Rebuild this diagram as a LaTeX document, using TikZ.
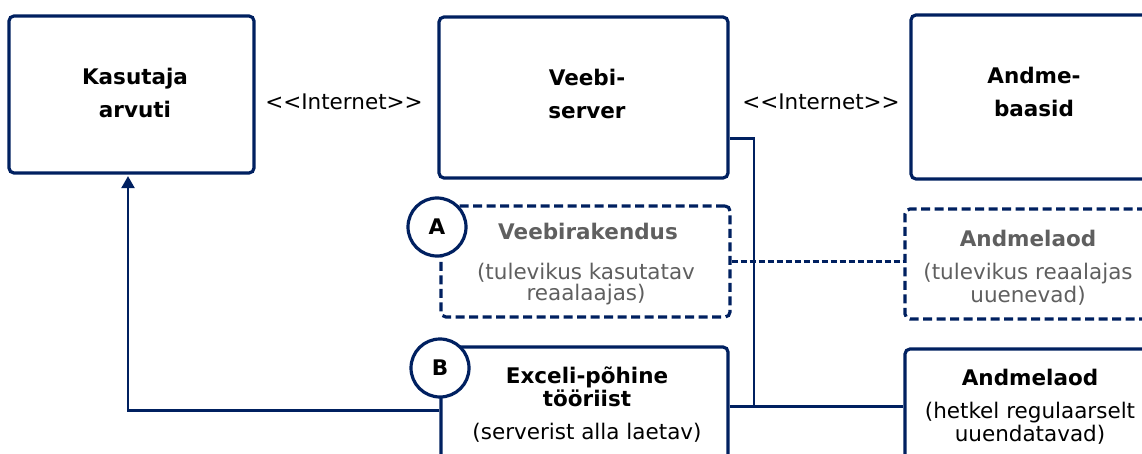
\documentclass[tikz,border=0pt]{standalone}
\usepackage{fontspec}
\setmainfont{DejaVu Sans}
\usetikzlibrary{arrows.meta}
\definecolor{navy}{HTML}{002060}
\definecolor{mute}{HTML}{5F5F5F}

\begin{document}
\begin{tikzpicture}[x=1pt, y=-1pt,
  box/.style={draw=navy, line width=3.2pt, rounded corners=5pt, inner sep=0pt},
  planned/.style={box, dash pattern=on 9pt off 4.5pt},
  badge/.style={circle, draw=navy, line width=3.2pt, fill=white, minimum size=58pt,
                inner sep=0pt, font=\fontsize{21.5}{25}\selectfont\bfseries},
  link/.style={draw=navy, line width=2.2pt},
  dlink/.style={link, dash pattern=on 6pt off 3pt},
  txt/.style={anchor=base, inner sep=0pt, font=\fontsize{21.5}{25}\selectfont},
  ttl/.style={txt, font=\fontsize{21.5}{25}\selectfont\bfseries},
  gtxt/.style={txt, text=mute},
  gttl/.style={ttl, text=mute}
]
\useasboundingbox (0,0) rectangle (1142,454);
\clip (0,0) rectangle (1142,454);

% top row
\node[box, minimum width=245pt, minimum height=157pt] (user)   at (131.5,94.5) {};
\node[box, minimum width=289pt, minimum height=161pt] (server) at (583.5,97.5) {};
\node[box, minimum width=246pt, minimum height=164pt] (db)     at (1034,97)   {};

\node[ttl] (userA) at (135,85)  {Kasutaja};
\node[ttl] (userB) at (135,118) {arvuti};
\node[ttl] (srvA)  at (587,86)  {Veebi-};
\node[ttl] (srvB)  at (587,119) {server};
\node[ttl] (dbA)   at (1034,84) {Andme-};
\node[ttl] (dbB)   at (1034,117) {baasid};

\node[txt] (net1) at (344,110) {<{}<Internet>{}>};
\node[txt] (net2) at (821,110) {<{}<Internet>{}>};

% planned components
\node[planned, minimum width=289pt, minimum height=111pt] (webapp) at (585.5,261.5) {};
\node[planned, minimum width=246pt, minimum height=110pt] (storeA) at (1028,264)  {};

\node[gttl] (appT)  at (588,240) {Veebirakendus};
\node[gtxt] (appS1) at (586,279) {(tulevikus kasutatav};
\node[gtxt] (appS2) at (586,300) {reaalaajas)};
\node[gttl] (stAT)  at (1028,247) {Andmelaod};
\node[gtxt] (stAS1) at (1028,279) {(tulevikus reaalajas};
\node[gtxt] (stAS2) at (1028,302) {uuenevad)};

% current components
\node[box, minimum width=287pt, minimum height=133pt] (excel)  at (584.5,413.5) {};
\node[box, minimum width=250pt, minimum height=131pt] (storeB) at (1030,414.5)  {};

\node[ttl] (exT1) at (587,383) {Exceli-põhine};
\node[ttl] (exT2) at (587,406) {tööriist};
\node[txt] (exS)  at (587,439) {(serverist alla laetav)};
\node[ttl] (stBT)  at (1030,385) {Andmelaod};
\node[txt] (stBS1) at (1030,418) {(hetkel regulaarselt};
\node[txt] (stBS2) at (1030,441) {uuendatavad)};

% connectors
\coordinate (bus) at (754,408);
\draw[link] ([yshift=41pt]server.south east) -| (bus);
\draw[link] ([yshift=-61pt]excel.north east) -- ([yshift=-59pt]storeB.north west);
\draw[dlink] (webapp.east) -- (webapp.east -| storeA.west);
\draw[link, -{Triangle[length=12pt, width=13pt]}]
  ([yshift=-65pt]excel.north west) -| ([xshift=-3.5pt, yshift=-1.5pt]user.south);

% badges
\node[badge] (bA) at (437,227) {A};
\node[badge] (bB) at (440,368) {B};
\end{tikzpicture}
\end{document}
